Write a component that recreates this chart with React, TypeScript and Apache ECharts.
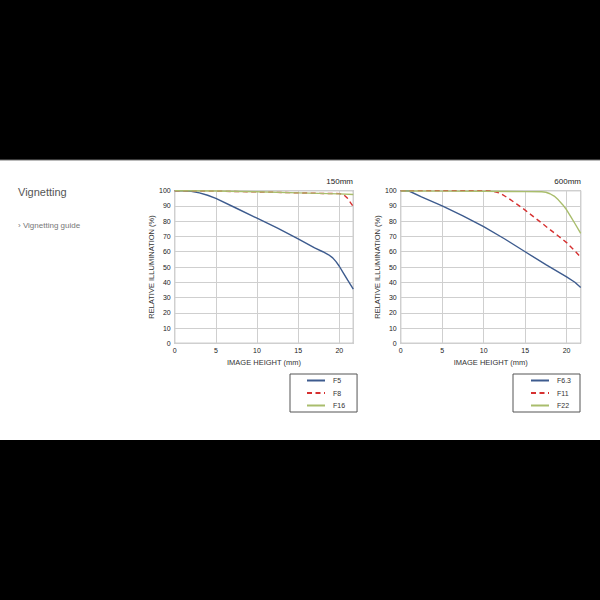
import React, { useEffect, useRef } from "react";
import * as echarts from "echarts";

// ---- data ----
const X_MAX = 21.7;
const xTicks = [0, 5, 10, 15, 20];
const yTicks = [0, 10, 20, 30, 40, 50, 60, 70, 80, 90, 100];

// 150mm
const f5H = [0, 1, 2, 3, 4, 5, 7.5, 10, 12.5, 15, 17, 18, 18.7, 19.2, 19.6, 20, 20.5, 21, 21.7];
const f5V = [100, 100, 99.6, 98.6, 97, 95, 88.5, 82, 75.5, 68.5, 62.5, 60, 58, 56, 53.5, 50.5, 46, 41.5, 35.5];
const f8H = [0, 5, 10, 15, 18, 20, 20.5, 21, 21.7];
const f8V = [100, 99.7, 99.2, 98.6, 98.2, 98.1, 97.6, 95, 89.5];
const f16H = [0, 5, 10, 15, 20, 21.7];
const f16V = [100, 99.8, 99.3, 98.6, 97.9, 97.5];

// 600mm
const f63H = [0, 1, 2.5, 5, 7.5, 10, 12.5, 15, 17.5, 20, 21, 21.7];
const f63V = [100, 99.8, 96, 90, 83.5, 76.5, 68.5, 60, 51.5, 43.5, 40, 36.5];
const f11H = [0, 5, 10, 11, 12, 13, 14, 15, 16, 17, 18, 19, 20, 21, 21.7];
const f11V = [100, 100, 100, 99.8, 98.3, 95, 91.2, 87.3, 83, 78.8, 74.5, 70.3, 66, 60.5, 56.5];
const f22H = [0, 5, 10, 15, 17, 17.5, 18, 18.5, 19, 19.5, 20, 20.5, 21, 21.7];
const f22V = [99.8, 99.7, 99.6, 99.4, 99.3, 99, 98, 96.5, 94, 91, 87.5, 83, 78.5, 72];

const titles = ["150mm", "600mm"];
const legend1 = ["F5", "F8", "F16"];
const legend2 = ["F6.3", "F11", "F22"];

const BLUE = "#3d5b8e";
const RED = "#d63030";
const GREEN = "#a9bd6c";

const pairs = (h: number[], v: number[]) => h.map((x, i) => [x, v[i]]);

export default function App() {
  const ref = useRef<HTMLDivElement>(null);
  useEffect(() => {
    if (!ref.current) return;
    const chart = echarts.init(ref.current, null, { renderer: "svg" });
    const font = "Liberation Sans, Arial, sans-serif";
    const mkX = (gi: number) => ({
      type: "value",
      gridIndex: gi,
      min: 0,
      max: X_MAX,
      interval: 5,
      name: "IMAGE HEIGHT (mm)",
      nameLocation: "middle",
      nameGap: 15.5,
      nameTextStyle: { fontSize: 7.5, color: "#333", fontFamily: font },
      axisLine: { show: false },
      axisTick: { show: false },
      axisLabel: { fontSize: 7, color: "#222", margin: 4, fontFamily: font, showMaxLabel: false },
      splitLine: { show: true, lineStyle: { color: "#cfcfcf", width: 1 } },
    });
    const mkY = (gi: number) => ({
      type: "value",
      gridIndex: gi,
      min: 0,
      max: 100,
      interval: 10,
      name: "RELATIVE ILLUMINATION (%)",
      nameLocation: "middle",
      nameGap: 15,
      nameTextStyle: { fontSize: 7.5, color: "#333", fontFamily: font },
      axisLine: { show: false },
      axisTick: { show: false },
      axisLabel: { fontSize: 7, color: "#222", margin: 4, fontFamily: font },
      splitLine: { show: true, lineStyle: { color: "#cfcfcf", width: 1 } },
    });
    const line = (name: string, h: number[], v: number[], color: string, gi: number, dashed = false) => ({
      type: "line",
      name,
      xAxisIndex: gi,
      yAxisIndex: gi,
      data: pairs(h, v),
      symbol: "none",
      smooth: false,
      lineStyle: { color, width: 1.4, type: dashed ? [5, 3.5] : "solid" },
      itemStyle: { color },
    });
    const legendBase = {
      orient: "vertical",
      borderColor: "#555",
      borderWidth: 1,
      itemWidth: 18,
      itemHeight: 8,
      itemGap: 5.5,
      itemStyle: { opacity: 0 },
      textStyle: { fontSize: 7, color: "#333", fontFamily: font, padding: [0, 0, 0, 3] },
      backgroundColor: "#fff",
    };
    chart.setOption({
      animation: false,
      backgroundColor: "#000",
      title: [
        { text: titles[0], right: 247, top: 177, padding: 0, textStyle: { fontSize: 8, fontWeight: "normal", color: "#222", fontFamily: font } },
        { text: titles[1], right: 19, top: 177, padding: 0, textStyle: { fontSize: 8, fontWeight: "normal", color: "#222", fontFamily: font } },
      ],
      graphic: [
        { type: "rect", z: -10, shape: { x: 0, y: 160, width: 600, height: 280 }, style: { fill: "#fff" } },
        { type: "rect", z: -9, shape: { x: 0, y: 159.5, width: 600, height: 1 }, style: { fill: "#777" } },
        { type: "text", x: 18, y: 192, style: { text: "Vignetting", fontSize: 11, fill: "#555", fontFamily: font, verticalAlign: "middle" } },
        { type: "text", x: 18, y: 225.5, style: { text: "› Vignetting guide", fontSize: 8, fill: "#777", fontFamily: font, verticalAlign: "middle" } },
      ],
      grid: [
        { left: 174.7, top: 190.7, width: 178.6, height: 152.6, show: true, borderColor: "#888", borderWidth: 1, backgroundColor: "transparent" },
        { left: 400.7, top: 190.7, width: 180, height: 152.6, show: true, borderColor: "#888", borderWidth: 1, backgroundColor: "transparent" },
      ],
      xAxis: [mkX(0), mkX(1)],
      yAxis: [mkY(0), mkY(1)],
      legend: [
        { ...legendBase, data: legend1, left: 290, top: 374, padding: [3, 12, 3, 16] },
        { ...legendBase, data: legend2, left: 513, top: 374, padding: [3, 9, 3, 17] },
      ],
      series: [
        line("F5", f5H, f5V, BLUE, 0),
        line("F8", f8H, f8V, RED, 0, true),
        line("F16", f16H, f16V, GREEN, 0),
        line("F6.3", f63H, f63V, BLUE, 1),
        line("F11", f11H, f11V, RED, 1, true),
        line("F22", f22H, f22V, GREEN, 1),
      ],
    });
    return () => chart.dispose();
  }, []);
  return (
    <div style={{ position: "fixed", left: 0, top: 0, width: 600, height: 600 }}>
      <div ref={ref} style={{ width: 600, height: 600 }} />
    </div>
  );
}
